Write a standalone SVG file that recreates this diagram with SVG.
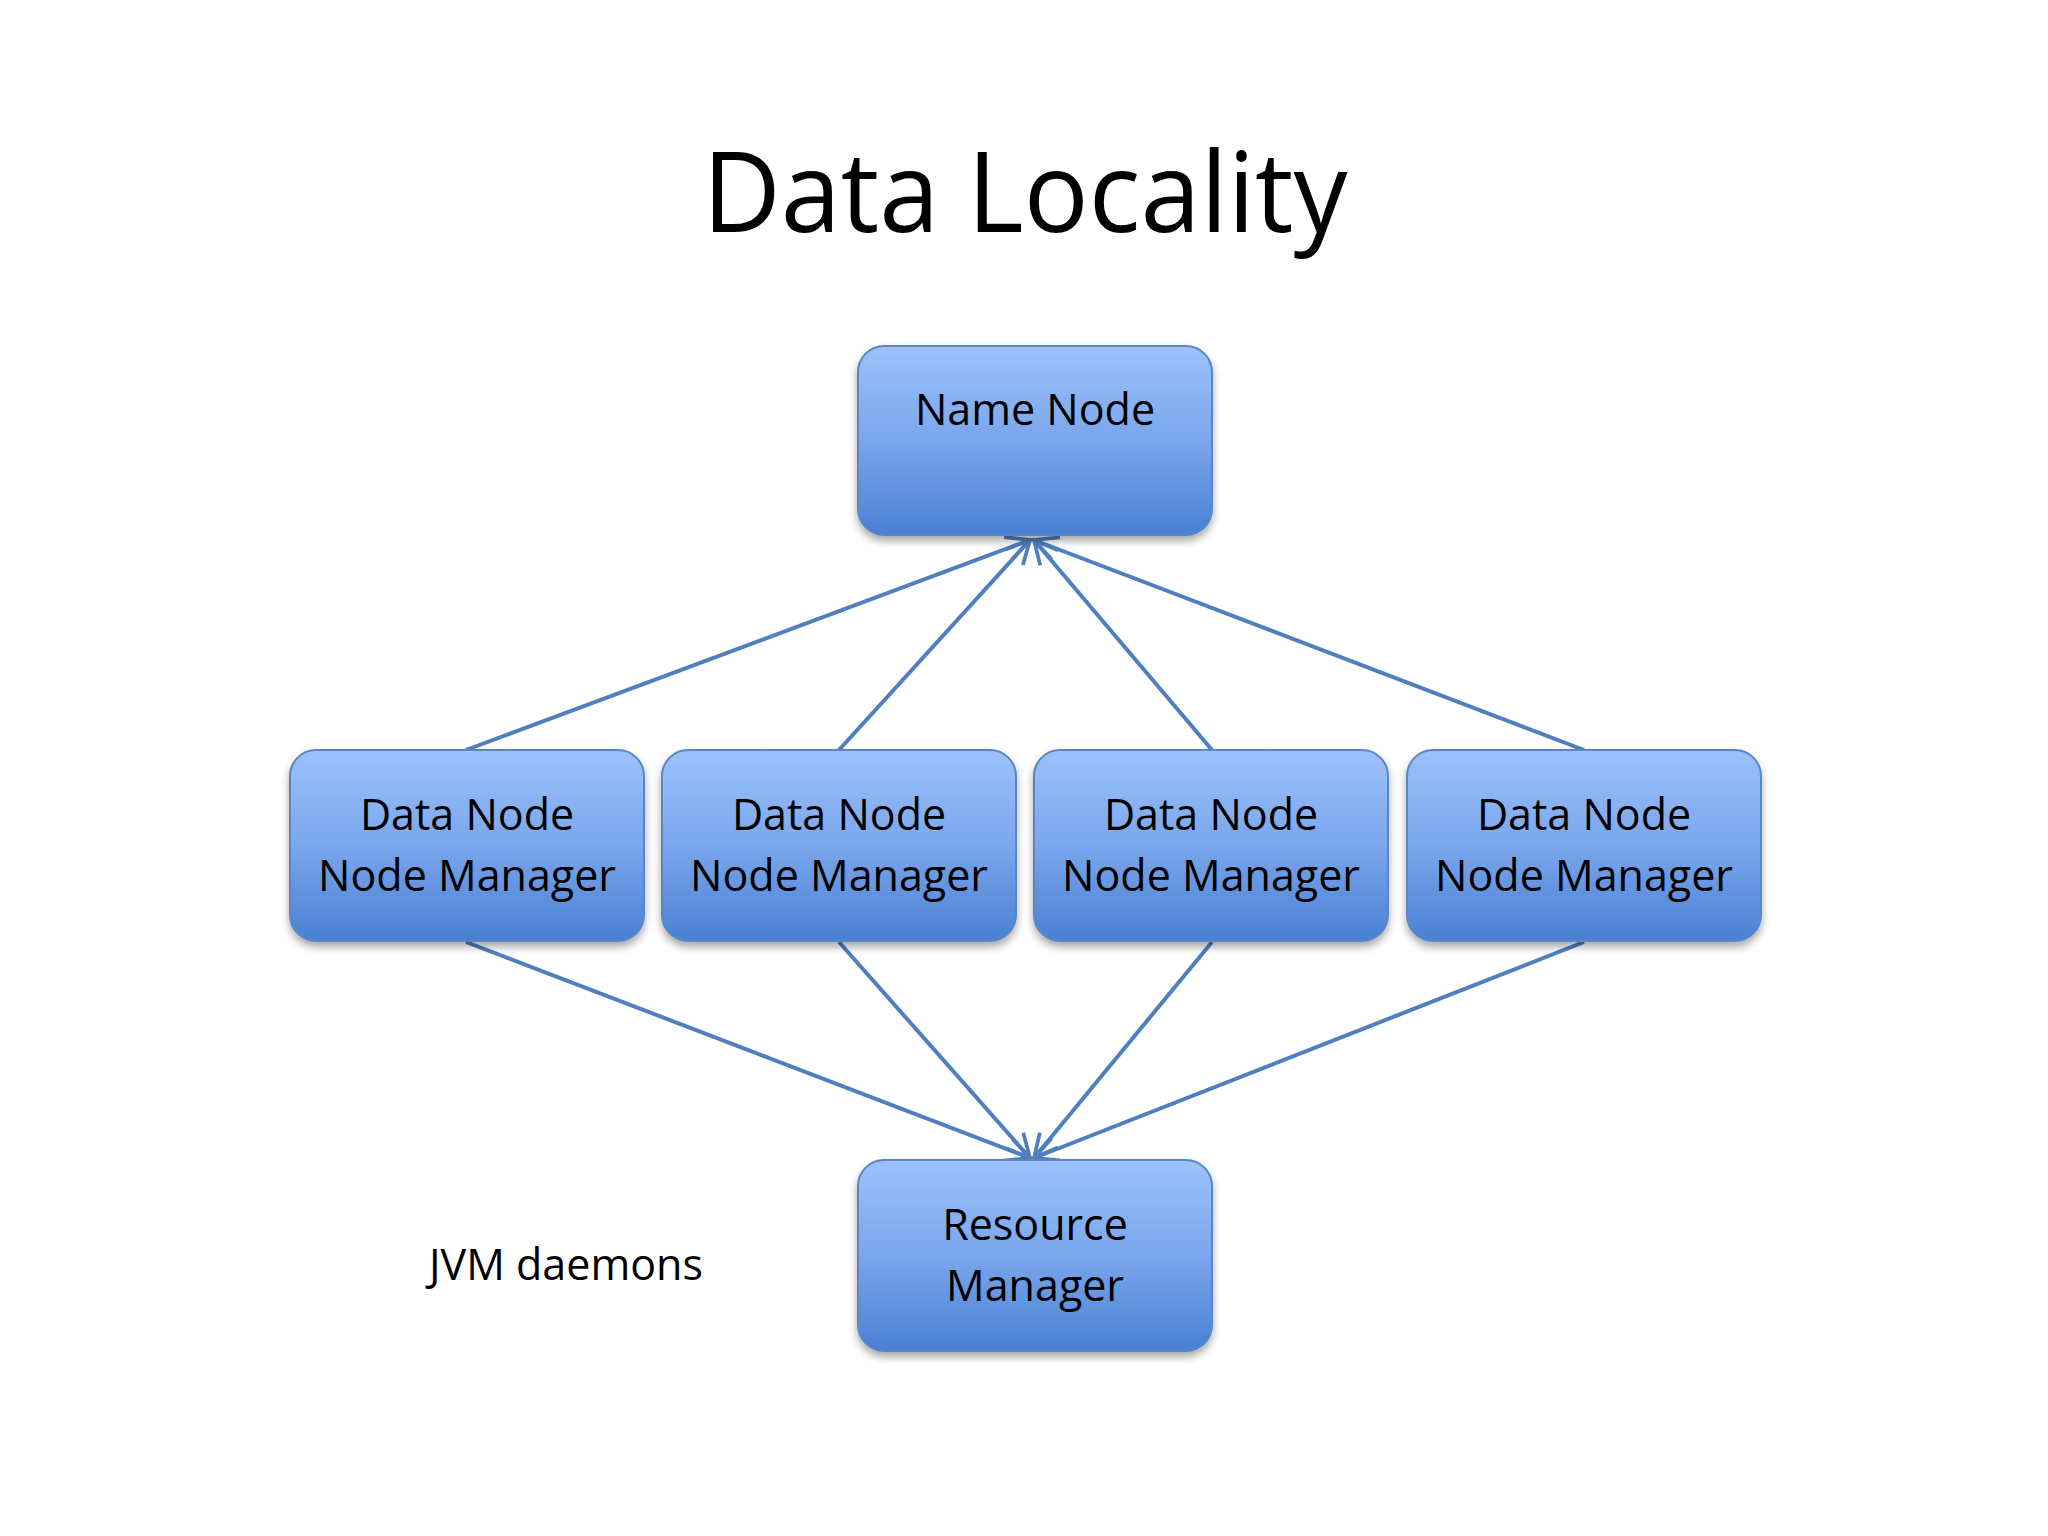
<svg xmlns="http://www.w3.org/2000/svg" width="2048" height="1536" viewBox="0 0 2048 1536">
<defs>
<linearGradient id="g" x1="0" y1="0" x2="0" y2="1">
<stop offset="0" stop-color="#9dc1fb"/><stop offset="0.5" stop-color="#7aa6ec"/><stop offset="1" stop-color="#4a80d3"/>
</linearGradient>
<filter id="sh" x="-10%" y="-10%" width="120%" height="130%"><feGaussianBlur in="SourceAlpha" stdDeviation="4"/><feOffset dy="5"/><feComponentTransfer><feFuncA type="linear" slope="0.35"/></feComponentTransfer><feMerge><feMergeNode/><feMergeNode in="SourceGraphic"/></feMerge></filter>
<marker id="a" viewBox="0 0 12 12" refX="11" refY="6" markerWidth="7" markerHeight="7" orient="auto" markerUnits="strokeWidth"><path d="M1,1 L11,6 L1,11" fill="none" stroke="#4f7fbf" stroke-width="1.6"/></marker>
</defs>
<style>
.b{fill:url(#g);stroke:#5a86c6;stroke-width:2;filter:url(#sh)}
.t{font-family:"Open Sans","Liberation Sans",sans-serif;font-size:43px;fill:#000;text-anchor:middle}
.c{stroke:#4f7fbf;stroke-width:4;fill:none;marker-end:url(#a)}
</style>
<rect width="2048" height="1536" fill="#fff"/>
<text x="1025" y="232" font-family="Open Sans, Liberation Sans, sans-serif" font-size="112" text-anchor="middle" textLength="645" lengthAdjust="spacingAndGlyphs">Data Locality</text>
<g id="connectors">
<line class="c" x1="466" y1="750" x2="1030" y2="540"/>
<line class="c" x1="839" y1="750" x2="1030" y2="540"/>
<line class="c" x1="1212" y1="750" x2="1034" y2="540"/>
<line class="c" x1="1584" y1="750" x2="1034" y2="540"/>
<line class="c" x1="466" y1="942" x2="1030" y2="1158"/>
<line class="c" x1="839" y1="942" x2="1030" y2="1158"/>
<line class="c" x1="1212" y1="942" x2="1034" y2="1158"/>
<line class="c" x1="1584" y1="942" x2="1034" y2="1158"/>
</g>
<g id="namenode"><rect class="b" x="858" y="346" width="354" height="189" rx="26"/><text class="t" x="1035" y="425">Name Node</text></g>
<g id="dn1"><rect class="b" x="290" y="750" width="354" height="191" rx="26"/><text class="t" x="467" y="830">Data Node</text><text class="t" x="467" y="891">Node Manager</text></g>
<g id="dn2"><rect class="b" x="662" y="750" width="354" height="191" rx="26"/><text class="t" x="839" y="830">Data Node</text><text class="t" x="839" y="891">Node Manager</text></g>
<g id="dn3"><rect class="b" x="1034" y="750" width="354" height="191" rx="26"/><text class="t" x="1211" y="830">Data Node</text><text class="t" x="1211" y="891">Node Manager</text></g>
<g id="dn4"><rect class="b" x="1407" y="750" width="354" height="191" rx="26"/><text class="t" x="1584" y="830">Data Node</text><text class="t" x="1584" y="891">Node Manager</text></g>
<g id="rm"><rect class="b" x="858" y="1160" width="354" height="191" rx="26"/><text class="t" x="1035" y="1240">Resource</text><text class="t" x="1035" y="1301">Manager</text></g>
<g id="jvm"><text class="t" x="566" y="1280">JVM daemons</text></g>
</svg>
